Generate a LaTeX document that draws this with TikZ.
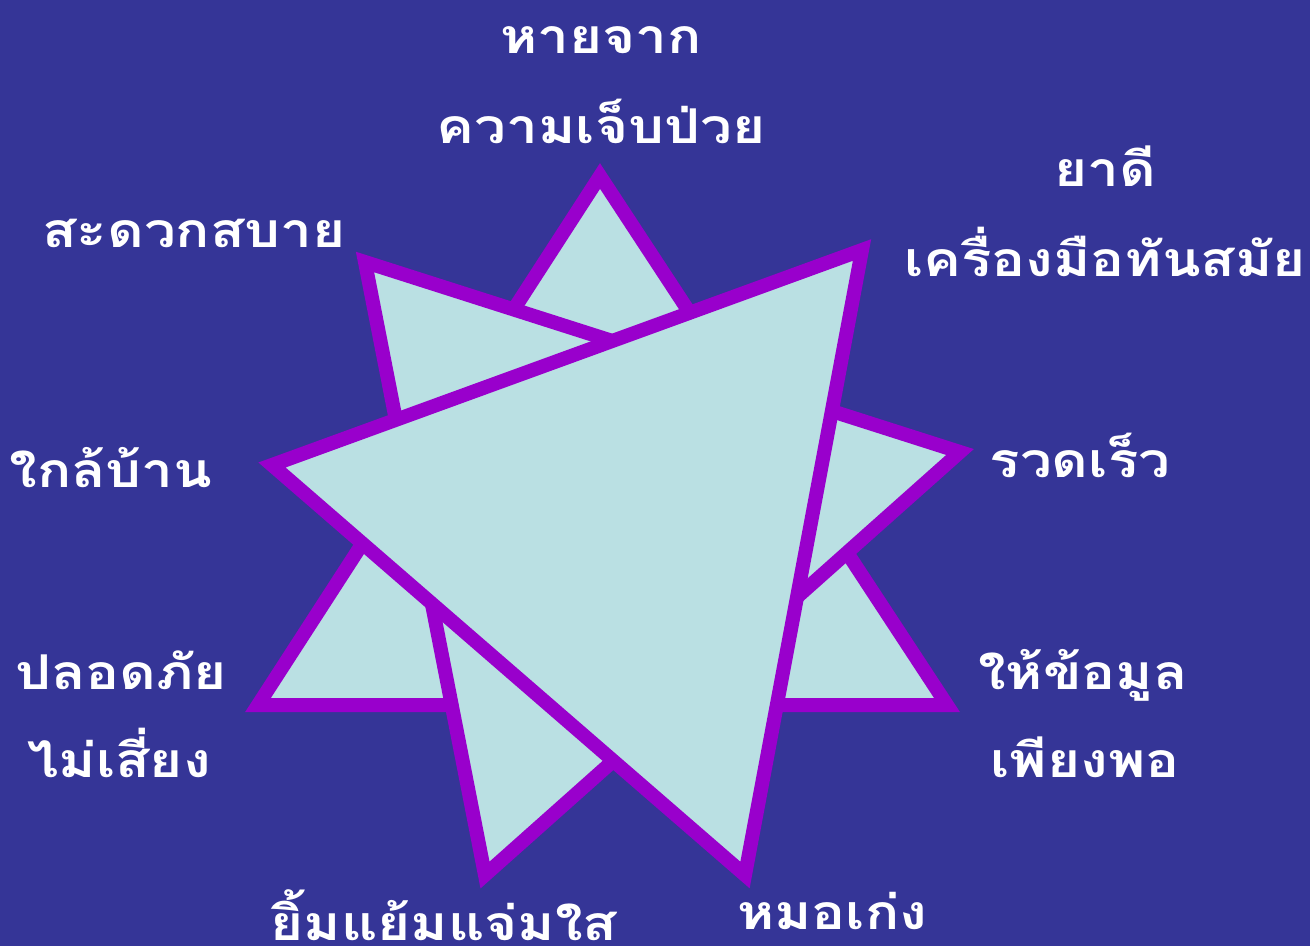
\documentclass[tikz,border=0pt]{standalone}
\usepackage{fontspec}
\newfontfamily\thaifont[Script=Thai,FakeStretch=1.18]{Loma}
\definecolor{bgblue}{HTML}{353597}
\definecolor{starfill}{HTML}{BAE0E3}
\definecolor{starline}{HTML}{9900CC}
\begin{document}
\begin{tikzpicture}[x=1pt, y=-1pt,
  tri/.style={draw=starline, fill=starfill, line width=14pt, line join=miter},
  lbl/.style={text=white, anchor=base, inner sep=0pt,
    font=\thaifont\bfseries\fontsize{48}{52}\selectfont}]
% page in pixels, y grows downwards
\fill[bgblue] (0,0) rectangle (1310,946);
\useasboundingbox (0,0) rectangle (1310,946);
% the three triangles, back to front
\foreach \a/\b/\c in {{600,176}/{947,705}/{258,705},
                      {365,262}/{960,452}/{485,875},
                      {862,250}/{745,875}/{272,465}}{%
  \draw[tri] (\a) -- (\b) -- (\c) -- cycle;}
% labels round the star
\node[lbl] (haiA)  at (601,53)  {หายจาก};
\node[lbl] (haiB)  at (601,143) {ความเจ็บป่วย};
\node[lbl] (yaA)   at (1105,186) {ยาดี};
\node[lbl] (yaB)   at (1105,276) {เครื่องมือทันสมัย};
\node[lbl] (sadu)  at (194,247) {สะดวกสบาย};
\node[lbl] (klai)  at (111,487) {ใกล้บ้าน};
\node[lbl] (ruat)  at (1080,477) {รวดเร็ว};
\node[lbl] (plotA) at (121,689) {ปลอดภัย};
\node[lbl] (plotB) at (119,777) {ไม่เสี่ยง};
\node[lbl] (haiC)  at (1083,689) {ให้ข้อมูล};
\node[lbl] (haiD)  at (1085,777) {เพียงพอ};
\node[lbl] (yim)   at (444,940) {ยิ้มแย้มแจ่มใส};
\node[lbl] (mo)    at (832,929) {หมอเก่ง};
\end{tikzpicture}
\end{document}
